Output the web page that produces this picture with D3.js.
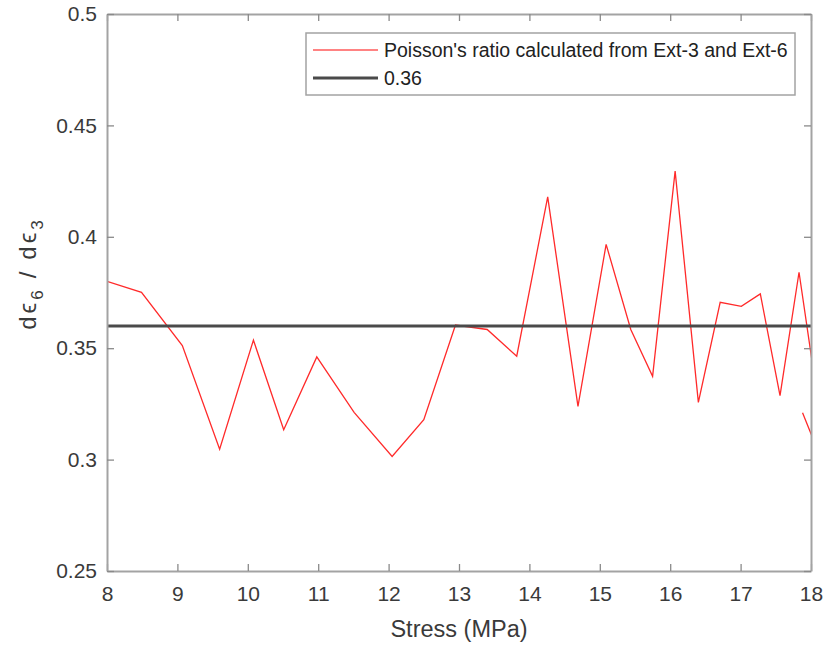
<!DOCTYPE html>
<html>
<head>
<meta charset="utf-8">
<script src="https://cdn.jsdelivr.net/npm/d3@7/dist/d3.min.js"></script>
<style>
  html, body { margin: 0; padding: 0; background: #fff; }
  svg { display: block; font-family: "Liberation Sans", Arial, Helvetica, sans-serif; }
</style>
</head>
<body>
<svg id="chart" width="826" height="645"></svg>
<script>
// Stress (MPa) at each measurement
const stress = [8.0, 8.49, 9.07, 9.6, 10.08, 10.51, 10.98, 11.51, 12.05, 12.5, 12.95,
  13.4, 13.82, 14.26, 14.69, 15.09, 15.44, 15.75, 16.07, 16.4, 16.71, 17.01, 17.28,
  17.56, 17.83, 18.22, 18.3, 17.88];
// Poisson's ratio dε6/dε3 from Ext-3 and Ext-6
const ratio = [0.380, 0.3751, 0.3512, 0.3047, 0.3536, 0.3134, 0.3461, 0.3212, 0.3014, 0.3179, 0.3604,
  0.3584, 0.3464, 0.4179, 0.3239, 0.3966, 0.3584, 0.3374, 0.4295, 0.3257, 0.3706, 0.3688, 0.3744,
  0.3287, 0.3841, 0.300, 0.288, 0.321];
// Reference value
const refRatio = 0.36;

const xTicks = [8, 9, 10, 11, 12, 13, 14, 15, 16, 17, 18];
const yTicks = [0.25, 0.3, 0.35, 0.4, 0.45, 0.5];
const legendLabels = ["Poisson's ratio calculated from Ext-3 and Ext-6", "0.36"];

const svg = d3.select("#chart");
const plotL = 107, plotT = 14, plotR = 811, plotB = 571;
const axisColor = "#a3a3a3", textColor = "#3a3a3a";

const x = d3.scaleLinear().domain([8, 18]).range([plotL, plotR]);
const y = d3.scaleLinear().domain([0.25, 0.5]).range([plotB, plotT]);

svg.append("defs").append("clipPath").attr("id", "plotClip")
  .append("rect").attr("x", plotL).attr("y", plotT)
  .attr("width", plotR - plotL).attr("height", plotB - plotT);

const plot = svg.append("g").attr("clip-path", "url(#plotClip)");

// measured ratio
const pts = stress.map((s, i) => [s, ratio[i]]);
plot.append("path")
  .datum(pts)
  .attr("fill", "none")
  .attr("stroke", "#ff2a2a")
  .attr("stroke-width", 1.3)
  .attr("stroke-linejoin", "miter")
  .attr("d", d3.line().x(d => x(d[0])).y(d => y(d[1])));

// reference line
plot.append("line")
  .attr("x1", x(8)).attr("x2", x(18))
  .attr("y1", y(refRatio)).attr("y2", y(refRatio))
  .attr("stroke", "#4a4a4a").attr("stroke-width", 3);

// axes with inward ticks on all four sides
const tickLen = 7;
const fmt = d => String(d);

const xb = svg.append("g").attr("transform", `translate(0,${plotB})`)
  .call(d3.axisBottom(x).tickValues(xTicks).tickSizeInner(-tickLen).tickSizeOuter(0).tickPadding(15).tickFormat(fmt));
const xt = svg.append("g").attr("transform", `translate(0,${plotT})`)
  .call(d3.axisTop(x).tickValues(xTicks).tickSizeInner(-tickLen).tickSizeOuter(0).tickFormat(""));
const yl = svg.append("g").attr("transform", `translate(${plotL},0)`)
  .call(d3.axisLeft(y).tickValues(yTicks).tickSizeInner(-tickLen).tickSizeOuter(0).tickPadding(10).tickFormat(fmt));
const yr = svg.append("g").attr("transform", `translate(${plotR},0)`)
  .call(d3.axisRight(y).tickValues(yTicks).tickSizeInner(-tickLen).tickSizeOuter(0).tickFormat(""));

[xb, xt, yl, yr].forEach(g => {
  g.select(".domain").attr("stroke", axisColor).attr("stroke-width", 2);
  g.selectAll(".tick line").attr("stroke", "#8a8a8a").attr("stroke-width", 1.3);
  g.selectAll(".tick text").attr("fill", textColor).attr("font-size", 21)
    .attr("font-family", "Liberation Sans, Arial, sans-serif");
});
xb.selectAll(".tick text").attr("dy", "0.71em");

// axis titles
svg.append("text")
  .attr("x", (plotL + plotR) / 2).attr("y", 637)
  .attr("text-anchor", "middle")
  .attr("font-size", 23.5).attr("fill", textColor)
  .text("Stress (MPa)");

// y title with TeX-like spacing around the subscripts and the slash
const yTitle = svg.append("text")
  .attr("transform", `translate(36,275) rotate(-90)`)
  .attr("text-anchor", "middle")
  .attr("font-size", 24).attr("fill", textColor);
yTitle.append("tspan").attr("letter-spacing", 3).text("dϵ");
yTitle.append("tspan").attr("dy", 7).attr("font-size", 17).text("6");
yTitle.append("tspan").attr("dy", -7).attr("dx", 12).text("/");
yTitle.append("tspan").attr("dx", 12).attr("letter-spacing", 3).text("dϵ");
yTitle.append("tspan").attr("dy", 7).attr("font-size", 17).text("3");

// legend
const lg = svg.append("g");
lg.append("rect").attr("x", 306).attr("y", 33).attr("width", 489).attr("height", 62)
  .attr("fill", "#fff").attr("stroke", axisColor).attr("stroke-width", 1.5);
const legendStyles = [
  { stroke: "#ff5a5a", width: 1.3 },
  { stroke: "#4a4a4a", width: 3 }
];
legendLabels.forEach((lab, i) => {
  const cy = 50 + i * 28;
  lg.append("line").attr("x1", 313).attr("x2", 378).attr("y1", cy).attr("y2", cy)
    .attr("stroke", legendStyles[i].stroke).attr("stroke-width", legendStyles[i].width);
  lg.append("text").attr("x", 384).attr("y", cy).attr("dy", "0.35em")
    .attr("font-size", 19.5).attr("fill", "#222").text(lab);
});
</script>
</body>
</html>
